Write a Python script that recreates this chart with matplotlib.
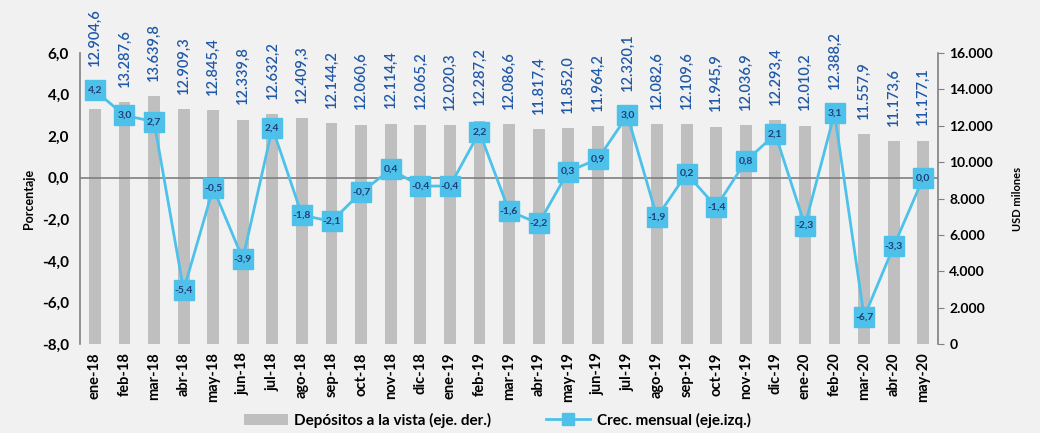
import matplotlib.pyplot as plt
import matplotlib.transforms as mtransforms
from matplotlib.lines import Line2D
from matplotlib.patches import Patch

plt.rcParams['font.family'] = ['Lato', 'DejaVu Sans']

meses = ['ene-18', 'feb-18', 'mar-18', 'abr-18', 'may-18', 'jun-18', 'jul-18', 'ago-18',
         'sep-18', 'oct-18', 'nov-18', 'dic-18', 'ene-19', 'feb-19', 'mar-19', 'abr-19',
         'may-19', 'jun-19', 'jul-19', 'ago-19', 'sep-19', 'oct-19', 'nov-19', 'dic-19',
         'ene-20', 'feb-20', 'mar-20', 'abr-20', 'may-20']
depositos = [12904.6, 13287.6, 13639.8, 12909.3, 12845.4, 12339.8, 12632.2, 12409.3,
             12144.2, 12060.6, 12114.4, 12065.2, 12020.3, 12287.2, 12086.6, 11817.4,
             11852.0, 11964.2, 12320.1, 12082.6, 12109.6, 11945.9, 12036.9, 12293.4,
             12010.2, 12388.2, 11557.9, 11173.6, 11177.1]
crecimiento = [4.2, 3.0, 2.7, -5.4, -0.5, -3.9, 2.4, -1.8, -2.1, -0.7, 0.4, -0.4, -0.4,
               2.2, -1.6, -2.2, 0.3, 0.9, 3.0, -1.9, 0.2, -1.4, 0.8, 2.1, -2.3, 3.1,
               -6.7, -3.3, 0.0]
izq_ticks = [-8, -6, -4, -2, 0, 2, 4, 6]
der_ticks = [0, 2000, 4000, 6000, 8000, 10000, 12000, 14000, 16000]

bar_color = '#bfbfbf'
line_color = '#4dc1ea'
label_blue = '#1f58a8'
text_dark = '#1f3f7a'


def es_num(v, dec=1):
    s = f'{v:,.{dec}f}'
    return s.replace(',', '#').replace('.', ',').replace('#', '.')


fig = plt.figure(figsize=(10.4, 4.33), dpi=100)
fig.patch.set_facecolor('#f1f1f1')

ax2 = fig.add_axes([0.077, 0.2055, 0.825, 0.672])
ax = ax2.twinx()
ax2.yaxis.tick_right()
ax2.yaxis.set_label_position('right')
ax.yaxis.tick_left()
ax.yaxis.set_label_position('left')
ax2.set_facecolor('none')

x = list(range(len(meses)))
ax2.bar(x, depositos, width=0.4, color=bar_color, zorder=1)
ax2.set_ylim(0, 16000)
ax2.set_yticks(der_ticks)
ax2.set_yticklabels([es_num(t, 0) for t in der_ticks], fontsize=10, fontweight='bold')
ax2.set_xlim(-0.5, len(meses) - 0.5)
ax2.set_xticks(x)
ax2.set_xticklabels(meses, rotation=90, fontsize=10.5, fontweight='bold')
ax2.tick_params(axis='x', length=0, pad=6)
ax2.tick_params(axis='y', length=4, color='#808080', pad=4, direction='out')
ax2.set_ylabel('USD milones', fontsize=8, fontweight='bold', labelpad=14)

ax.axhline(0, color='#7f7f7f', lw=1.2, zorder=2)
ax.plot(x, crecimiento, color=line_color, lw=2, marker='s', markersize=15,
        markerfacecolor=line_color, markeredgecolor=line_color, zorder=3)
for xi, v in zip(x, crecimiento):
    ax.text(xi, v, es_num(v), ha='center', va='center', fontsize=7.5,
            fontweight='bold', color=text_dark, zorder=4)
ax.set_ylim(-8, 6)
ax.set_yticks(izq_ticks)
ax.set_yticklabels([es_num(t) for t in izq_ticks], fontsize=11, fontweight='bold')
ax.tick_params(axis='y', length=0, pad=8)
ax.set_ylabel('Porcentaje', fontsize=9, fontweight='bold', labelpad=5)

# labels for deposit bars: above the bar or above the marker, whichever is higher
trans = ax2.transData + mtransforms.ScaledTranslation(0, 11 / 72, fig.dpi_scale_trans)
for xi, d, v in zip(x, depositos, crecimiento):
    marker_r = (v + 8) / 14 * 16000 + 500
    base = max(d, marker_r)
    ax2.text(xi, base, es_num(d), rotation=90, ha='center', va='bottom', fontsize=10.5,
             fontweight='semibold', color=label_blue, transform=trans, clip_on=False)

for a in (ax, ax2):
    for s in ('top', 'bottom'):
        a.spines[s].set_visible(False)
ax.spines['right'].set_visible(False)
ax2.spines['left'].set_visible(False)
ax.spines['left'].set_color('#808080')
ax2.spines['right'].set_color('#808080')
ax.spines['left'].set_linewidth(1.2)
ax2.spines['right'].set_linewidth(1.2)

handles = [Patch(facecolor=bar_color, edgecolor='none'),
           Line2D([0], [0], color=line_color, lw=2, marker='s', markersize=8,
                  markerfacecolor=line_color, markeredgecolor=line_color)]
fig.legend(handles, ['Depósitos a la vista (eje. der.)', 'Crec. mensual (eje.izq.)'],
           loc='center', bbox_to_anchor=(0.478, 0.03), ncol=2, frameon=False,
           prop={'size': 11, 'weight': 'bold'}, handlelength=2.9, handletextpad=0.4,
           columnspacing=3.6)

fig.savefig('out.png', dpi=100, facecolor=fig.get_facecolor())
